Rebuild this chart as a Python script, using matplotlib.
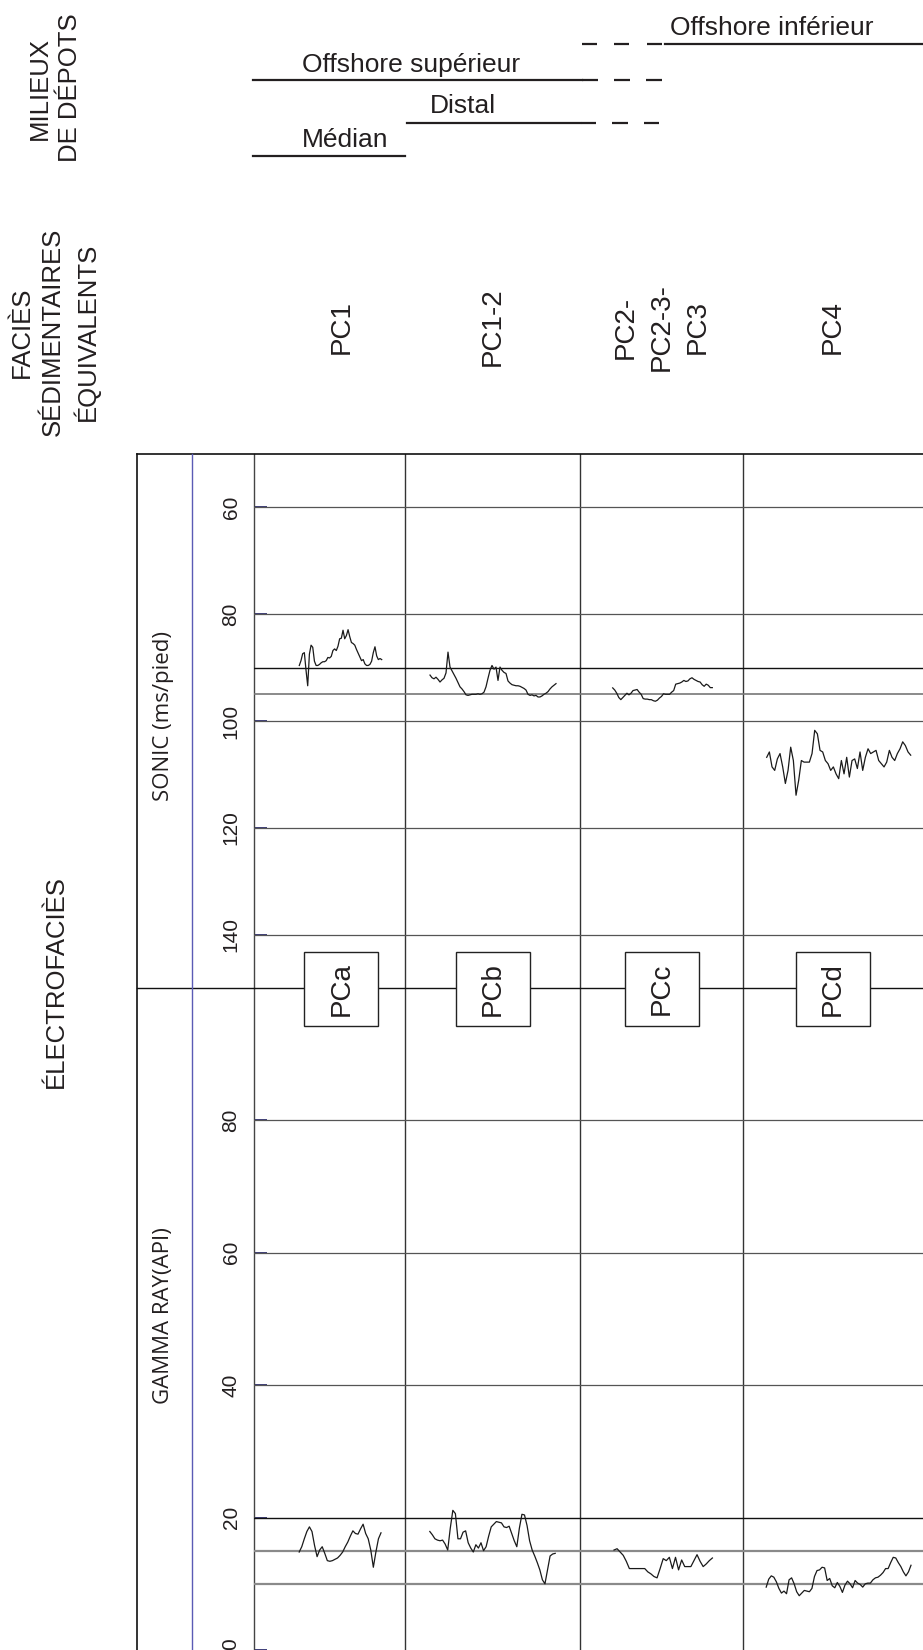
import numpy as np
import matplotlib.pyplot as plt
from matplotlib.patches import Rectangle

W, H = 923, 1650
ARIAL = 'Liberation Sans'
INK = '#231f20'

# ---- labels
environments = ['Offshore inférieur', 'Offshore supérieur', 'Distal', 'Médian']
facies = ['PC1', 'PC1-2', 'PC2-\nPC2-3-\nPC3', 'PC4']
electrofacies = ['PCa', 'PCb', 'PCc', 'PCd']

# ---- log scales
sonic_ticks = [60, 80, 100, 120, 140]
sonic_cutoffs = [90, 95]
gr_ticks = [0, 20, 40, 60, 80]
gr_cutoffs = [15, 10]

# ---- sonic traces (ms/pied), one per facies column
sonic_pc1 = [89.6, 88.7, 87.4, 87.2, 90.5, 93.4, 87.5, 85.8, 86.2, 88.8, 89.6, 89.6, 89.4,
             89.1, 88.9, 88.9, 88.7, 88.1, 88.2, 87.9, 86.8, 86.5, 86.8, 86.0, 84.6, 84.5,
             83.0, 84.6, 84.0, 82.9, 84.2, 85.3, 85.5, 85.8, 86.6, 87.3, 88.0, 88.7, 88.5,
             89.3, 89.6, 89.6, 89.4, 88.8, 87.2, 86.1, 87.8, 88.5, 88.3, 88.5]
sonic_pc12 = [91.4, 91.9, 92.1, 91.8, 92.2, 92.7, 92.3, 92.0, 91.0, 87.1, 89.9, 90.6, 91.3,
              92.0, 92.8, 93.6, 94.0, 94.5, 95.1, 95.2, 95.1, 95.0, 95.0, 95.0, 94.9, 95.0,
              94.9, 94.6, 93.6, 92.0, 90.5, 89.6, 90.3, 89.9, 92.4, 89.9, 90.5, 90.9, 91.1,
              92.5, 92.9, 93.2, 93.3, 93.4, 93.4, 93.5, 93.7, 93.9, 94.2, 95.0, 95.2, 95.1,
              95.3, 95.2, 95.5, 95.5, 95.3, 95.0, 94.8, 94.5, 94.0, 93.6, 93.3, 93.0]
sonic_pc23 = [93.8, 94.2, 94.8, 95.6, 96.0, 95.6, 95.2, 94.8, 95.1, 94.8, 94.3, 94.2, 94.1,
              94.6, 95.0, 95.8, 95.9, 95.9, 96.0, 96.0, 96.2, 96.3, 96.1, 95.7, 95.4, 94.9,
              95.0, 95.0, 95.0, 94.6, 94.3, 93.1, 93.0, 92.9, 92.7, 92.4, 92.6, 92.5, 92.1,
              91.9, 92.2, 92.4, 92.6, 92.7, 93.2, 93.5, 93.1, 93.3, 93.75, 93.75]
sonic_pc4 = [106.8, 105.8, 108.6, 109.25, 107.1, 106.1, 108.6, 111.7, 109.25, 104.9, 107.4,
             113.9, 111.1, 107.4, 107.7, 107.7, 107.7, 106.1, 101.75, 102.4, 105.5, 105.8,
             107.4, 108.0, 109.25, 108.6, 109.9, 110.8, 107.4, 109.9, 106.8, 110.5, 107.4,
             107.1, 108.9, 105.8, 109.25, 106.8, 105.2, 106.1, 105.8, 105.5, 107.4, 108.0,
             108.6, 107.7, 105.5, 106.8, 107.4, 106.1, 105.2, 103.9, 104.6, 105.8, 106.4]

# ---- gamma ray traces (API)
gr_pc1 = [14.8, 15.6, 16.8, 17.9, 18.6, 17.9, 15.8, 14.1, 15.1, 15.6, 14.6, 13.5, 13.4, 13.5,
          13.7, 13.9, 14.3, 14.8, 15.6, 16.3, 17.2, 18.0, 17.6, 17.5, 18.3, 19.0, 17.6, 16.8,
          15.1, 12.5, 14.8, 16.8, 17.7]
gr_pc12 = [17.9, 17.4, 16.8, 16.6, 16.5, 16.6, 16.0, 15.1, 18.4, 21.1, 20.6, 16.8, 16.8, 17.8,
           18.0, 16.2, 15.4, 14.8, 15.9, 15.4, 16.2, 15.0, 15.6, 17.2, 18.6, 19.0, 19.4, 19.3,
           19.2, 18.6, 18.5, 18.7, 17.6, 16.5, 15.6, 18.4, 20.5, 20.4, 18.8, 16.5, 15.1, 14.2,
           13.2, 12.1, 10.6, 10.0, 12.1, 14.2, 14.5, 14.6]
gr_pc23 = [15.1, 15.3, 14.8, 14.3, 13.4, 12.3, 12.3, 12.3, 12.3, 12.3, 12.3, 11.8, 11.5, 11.1,
           10.9, 12.3, 13.8, 13.5, 14.0, 12.3, 14.0, 12.1, 13.6, 12.6, 12.6, 12.6, 13.5, 14.4,
           13.4, 12.6, 13.0, 13.5, 13.9]
gr_pc4 = [9.5, 10.7, 11.2, 11.0, 10.3, 9.3, 8.6, 8.9, 8.5, 10.6, 10.9, 10.0, 8.8, 8.2, 8.6,
          9.0, 8.9, 8.8, 9.3, 11.1, 12.0, 12.1, 12.5, 12.4, 10.5, 10.8, 9.7, 9.4, 10.2, 9.6,
          8.7, 9.8, 10.4, 10.0, 9.4, 10.5, 10.1, 9.9, 9.5, 10.0, 10.1, 10.1, 10.6, 10.9, 11.0,
          11.3, 11.7, 12.3, 12.3, 13.2, 14.0, 13.9, 13.2, 12.6, 11.8, 11.2, 11.8, 12.8]

# layout (pixels)
x_frame, x_blue, x_plot = 136.8, 191.6, 253.7
y_top, y_mid = 454, 988
col_edges = [0, 151.5, 326.3, 489.3, W - x_plot]          # track units = px from plot left
sonic_span = [(45.6, 128.0), (176.3, 302.3), (359.0, 458.6), (513.0, 657.0)]
gr_span = [(45.5, 127.3), (176.1, 301.5), (360.3, 458.7), (512.5, 657.3)]
label_x = -22.7

fig = plt.figure(figsize=(W / 100, H / 100), dpi=100)
ax_s = fig.add_axes([x_plot / W, (H - y_mid) / H, (W - x_plot) / W, (y_mid - y_top) / H])
ax_g = fig.add_axes([x_plot / W, 0, (W - x_plot) / W, (H - y_mid) / H])
ax_s.set_ylim(150, 50)
ax_g.set_ylim(0, 100)

for ax, ticks in [(ax_s, sonic_ticks), (ax_g, gr_ticks)]:
    ax.set_xlim(0, W - x_plot)
    ax.set_facecolor('none')
    for sp in ax.spines.values():
        sp.set_visible(False)
    ax.set_xticks([])
    for xe in col_edges[1:-1]:
        ax.axvline(xe, color='#333333', lw=1.0)
    ax.axvline(0, color='#444444', lw=1.0, clip_on=False)
    ax.set_yticks(ticks)
    ax.set_yticklabels([])
    ax.tick_params(axis='y', direction='in', length=9, width=1.3, color='#2e2e6e')
    for t in ticks:
        ax.text(label_x, t, str(t), rotation=90, ha='center', va='bottom' if t == 0 else 'center',
                fontsize=15, family=ARIAL, color=INK, clip_on=False)

for t in sonic_ticks:
    ax_s.axhline(t, color='#555555', lw=0.9)
ax_s.axhline(sonic_cutoffs[0], color='#111111', lw=1.0)
ax_s.axhline(sonic_cutoffs[1], color='#777777', lw=1.2)
for t in gr_ticks[1:]:
    ax_g.axhline(t, color='#111111' if t == 20 else '#555555', lw=1.0 if t == 20 else 0.9)
for t in gr_cutoffs:
    ax_g.axhline(t, color='#8a8a8a', lw=1.6)

for vals, (a, b) in zip([sonic_pc1, sonic_pc12, sonic_pc23, sonic_pc4], sonic_span):
    ax_s.plot(np.linspace(a, b, len(vals)), vals, color='#1a1a1a', lw=0.9)
for vals, (a, b) in zip([gr_pc1, gr_pc12, gr_pc23, gr_pc4], gr_span):
    ax_g.plot(np.linspace(a, b, len(vals)), vals, color='#1a1a1a', lw=0.9)

# overlay in pixel coordinates for the frame and headings
ov = fig.add_axes([0, 0, 1, 1])
ov.set_xlim(0, W)
ov.set_ylim(H, 0)
ov.axis('off')

ov.plot([x_frame, W], [y_top, y_top], color='#111111', lw=1.2)
ov.plot([x_frame, x_frame], [y_top, H], color='#111111', lw=1.2)
ov.plot([x_blue, x_blue], [y_top, H], color='#5b5bb5', lw=1.0)
ov.plot([x_frame, W], [y_mid, y_mid], color='#111111', lw=1.0, zorder=1)

# electrofacies boxes
col_centers = [x_plot + (col_edges[i] + col_edges[i + 1]) / 2 for i in range(4)]
col_centers[0] += 12
for cx, lab in zip(col_centers, electrofacies):
    ov.add_patch(Rectangle((cx - 37, y_mid - 36), 74, 74, fc='white', ec='#222222', lw=1.0, zorder=3))
    ov.text(cx, y_mid + 1, lab, rotation=90, ha='center', va='center', fontsize=20,
            family=ARIAL, color=INK, zorder=4)

# facies names
for cx, lab in zip(col_centers, facies):
    ov.text(cx, 327, lab, rotation=90, ha='center', va='center', fontsize=20, family=ARIAL,
            color=INK, multialignment='center', linespacing=1.5)

# depositional environments
lw_env = 1.6
ov.plot([665, W], [44, 44], color=INK, lw=lw_env)
ov.plot([253.3, 581.7], [80, 80], color=INK, lw=lw_env)
ov.plot([406.7, 580], [122.5, 122.5], color=INK, lw=lw_env)
ov.plot([253.3, 405], [156, 156], color=INK, lw=lw_env)
for y, starts in [(44, [581.7, 613.5, 646.5]), (80, [582, 614, 646]), (122.5, [580.5, 612, 643.5])]:
    for s in starts:
        ov.plot([s, s + 15.5], [y, y], color=INK, lw=lw_env, solid_capstyle='butt')
for lab, (tx, ty) in zip(environments, [(670, 35), (301.7, 71.7), (430, 113.3), (301.7, 146.7)]):
    ov.text(tx, ty, lab, ha='left', va='baseline', fontsize=19, family=ARIAL, color=INK)

# left headings
ov.text(55, 88, 'MILIEUX\nDE DÉPOTS', rotation=90, ha='center', va='center', fontsize=18.5,
        family=ARIAL, color=INK, multialignment='center', linespacing=1.36)
ov.text(55, 332, 'FACIÈS\nSÉDIMENTAIRES\nÉQUIVALENTS', rotation=90, ha='center', va='center',
        fontsize=18.5, family=ARIAL, color=INK, multialignment='center', linespacing=1.36)
ov.text(56, 982, 'ÉLECTROFACIÈS', rotation=90, ha='center', va='center', fontsize=18.5,
        family=ARIAL, color=INK)
ov.text(163, 716, 'SONIC (ms/pied)', rotation=90, ha='center', va='center', fontsize=16,
        family='Open Sans', color=INK)
ov.text(163, 1316, 'GAMMA RAY(API)', rotation=90, ha='center', va='center', fontsize=16,
        family='Open Sans', color=INK)

fig.savefig('out.png', dpi=100)
